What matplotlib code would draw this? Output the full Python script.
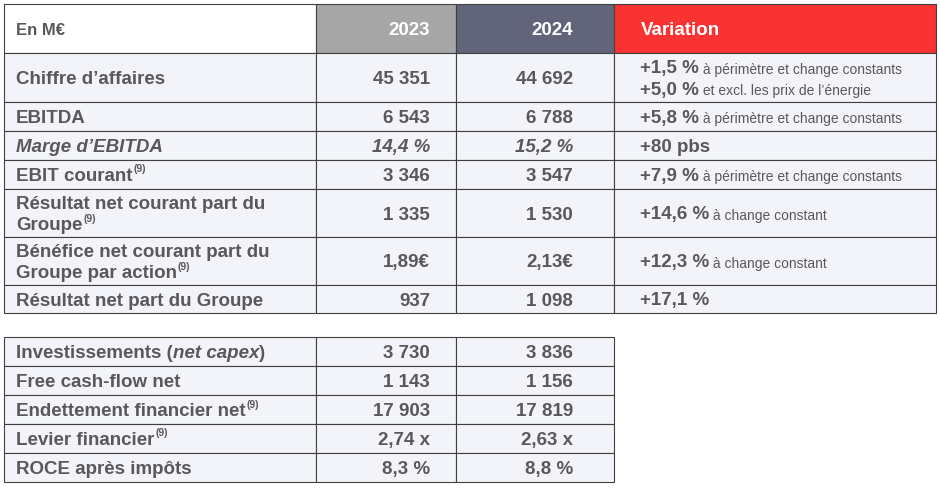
import matplotlib
matplotlib.use("Agg")
import matplotlib.pyplot as plt
from matplotlib.patches import Rectangle

plt.rcParams["font.family"] = "Liberation Sans"

headers = ["En M€", "2023", "2024", "Variation"]
labels_top = ["Chiffre d\u2019affaires", "EBITDA", "Marge d\u2019EBITDA", "EBIT courant",
              "Résultat net courant part du\nGroupe", "Bénéfice net courant part du\nGroupe par action",
              "Résultat net part du Groupe"]
sup_top = [False, False, False, True, True, True, False]
italic_top = [False, False, True, False, False, False, False]
v2023_top = ["45 351", "6 543", "14,4 %", "3 346", "1 335", "1,89€", "937"]
v2024_top = ["44 692", "6 788", "15,2 %", "3 547", "1 530", "2,13€", "1 098"]
var_main = [["+1,5 %", "+5,0 %"], ["+5,8 %"], ["+80 pbs"], ["+7,9 %"], ["+14,6 %"], ["+12,3 %"], ["+17,1 %"]]
var_note = [[" à périmètre et change constants", " et excl. les prix de l\u2019énergie"],
            [" à périmètre et change constants"], [""], [" à périmètre et change constants"],
            [" à change constant"], [" à change constant"], [""]]

labels_bot = ["Investissements (net capex)", "Free cash-flow net", "Endettement financier net",
              "Levier financier", "ROCE après impôts"]
sup_bot = [False, False, True, True, False]
v2023_bot = ["3 730", "1 143", "17 903", "2,74 x", "8,3 %"]
v2024_bot = ["3 836", "1 156", "17 819", "2,63 x", "8,8 %"]

W, H = 940, 492
fig = plt.figure(figsize=(9.4, 4.92), dpi=100)
ax = fig.add_axes([0, 0, 1, 1])
ax.set_xlim(0, W); ax.set_ylim(H, 0); ax.axis("off")

TC = "#595959"; BG = "#f3f4f9"; EC = "#404040"
cols = [4, 316, 456, 614, 936]
top_rows = [4, 53, 102, 131, 160, 189, 237, 285, 313]
bot_rows = [337, 366, 395, 424, 453, 482]
FS = 13.5; SFS = 10; DY = 2

fig.canvas.draw()
r = fig.canvas.get_renderer()

def width_px(t):
    return t.get_window_extent(renderer=r).width

def label_with_sup(x, y, s, sup, style="normal"):
    lines = s.split("\n")
    n = len(lines)
    for j, ln in enumerate(lines):
        yy = y + (j - (n - 1) / 2) * 21
        t = ax.text(x, yy, ln, fontsize=FS, fontweight="bold", color=TC, va="center", ha="left", style=style)
        if sup and j == n - 1:
            lw = width_px(t)
            ax.text(x + lw + 1, yy - 7, "(9)", fontsize=7.5, fontweight="bold", color=TC, va="center", ha="left")

# header
fills = ["white", "#a6a6a6", "#626579", "#f93232"]
for i in range(4):
    ax.add_patch(Rectangle((cols[i], top_rows[0]), cols[i+1]-cols[i], top_rows[1]-top_rows[0],
                           facecolor=fills[i], edgecolor=EC, lw=0.8))
yc = (top_rows[0] + top_rows[1]) / 2 + DY
ax.text(16, yc, headers[0], fontsize=12, fontweight="bold", color=TC, va="center")
ax.text(430, yc, headers[1], fontsize=FS, fontweight="bold", color="white", va="center", ha="right")
ax.text(573, yc, headers[2], fontsize=FS, fontweight="bold", color="white", va="center", ha="right")
ax.text(641, yc, headers[3], fontsize=FS, fontweight="bold", color="white", va="center", ha="left")

for k in range(len(labels_top)):
    y0, y1 = top_rows[k+1], top_rows[k+2]
    for i in range(4):
        ax.add_patch(Rectangle((cols[i], y0), cols[i+1]-cols[i], y1-y0, facecolor=BG, edgecolor=EC, lw=0.8))
    yc = (y0 + y1) / 2 + DY
    st = "italic" if italic_top[k] else "normal"
    label_with_sup(16, yc, labels_top[k], sup_top[k], st)
    ax.text(430, yc, v2023_top[k], fontsize=FS, fontweight="bold", color=TC, va="center", ha="right", style=st)
    ax.text(573, yc, v2024_top[k], fontsize=FS, fontweight="bold", color=TC, va="center", ha="right", style=st)
    n = len(var_main[k])
    for j in range(n):
        yy = yc + (j - (n - 1) / 2) * 21
        t = ax.text(640, yy, var_main[k][j], fontsize=FS, fontweight="bold", color=TC, va="center", ha="left")
        wpx = width_px(t)
        if var_note[k][j]:
            ax.text(640 + wpx, yy + 1, var_note[k][j], fontsize=SFS, color=TC, va="center", ha="left")

for k in range(len(labels_bot)):
    y0, y1 = bot_rows[k], bot_rows[k+1]
    for i in range(3):
        ax.add_patch(Rectangle((cols[i], y0), cols[i+1]-cols[i], y1-y0, facecolor=BG, edgecolor=EC, lw=0.8))
    yc = (y0 + y1) / 2 + DY
    if k == 0:
        t = ax.text(16, yc, "Investissements (", fontsize=FS, fontweight="bold", color=TC, va="center")
        w1 = width_px(t)
        t2 = ax.text(16 + w1, yc, "net capex", fontsize=FS, fontweight="bold", style="italic", color=TC, va="center")
        w2 = width_px(t2)
        ax.text(16 + w1 + w2, yc, ")", fontsize=FS, fontweight="bold", color=TC, va="center")
    else:
        label_with_sup(16, yc, labels_bot[k], sup_bot[k])
    ax.text(430, yc, v2023_bot[k], fontsize=FS, fontweight="bold", color=TC, va="center", ha="right")
    ax.text(573, yc, v2024_bot[k], fontsize=FS, fontweight="bold", color=TC, va="center", ha="right")

fig.savefig("out.png", dpi=100, facecolor="white")
